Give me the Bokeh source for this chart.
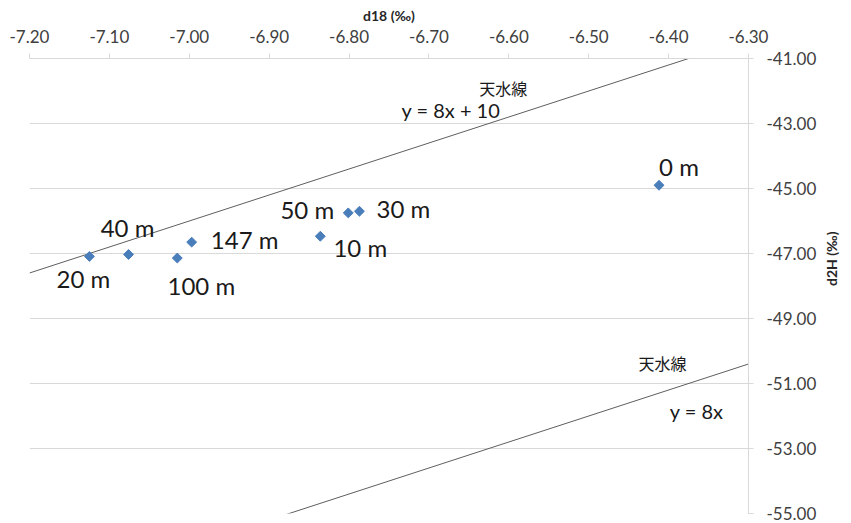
import math
from bokeh.plotting import figure
from bokeh.models import ColumnDataSource, NumeralTickFormatter, FixedTicker, Label, Range1d
from bokeh.core.properties import value
from bokeh.embed import file_html
from bokeh.resources import INLINE

# ---- data ----
depth_labels = ["0 m", "10 m", "20 m", "30 m", "40 m", "50 m", "100 m", "147 m"]
d18 = [-6.412, -6.836, -7.125, -6.787, -7.076, -6.801, -7.015, -6.997]
d2H = [-44.90, -46.47, -47.09, -45.70, -47.03, -45.75, -47.14, -46.65]

x_ticks = [-7.20, -7.10, -7.00, -6.90, -6.80, -6.70, -6.60, -6.50, -6.40, -6.30]
y_ticks = [-55.0, -53.0, -51.0, -49.0, -47.0, -45.0, -43.0, -41.0]

# meteoric water lines: y = slope*x + intercept
mwl_slope = 8.0
mwl_upper_intercept = 10.0
mwl_lower_intercept = 0.0
mwl_x = [-7.20, -6.30]

# label placement (screen px, +down)
label_dx = [20, 40, -6, 44, -1, -41, 24, 53]
label_dy = [-19, 11, 22, -3, -27, -3, 27, -3]

FONT = "Lato"

p = figure(width=851, height=523, output_backend="svg", toolbar_location=None,
           x_axis_location="above", y_axis_location="right",
           x_range=Range1d(-7.20, -6.30), y_range=Range1d(-55.0, -41.0),
           min_border_left=29, min_border_right=102, min_border_top=58, min_border_bottom=10)
p.outline_line_color = None
p.background_fill_color = "white"
p.border_fill_color = "white"

# axes
p.xaxis.ticker = FixedTicker(ticks=x_ticks)
p.yaxis.ticker = FixedTicker(ticks=y_ticks)
p.xaxis.formatter = NumeralTickFormatter(format="0.00")
p.yaxis.formatter = NumeralTickFormatter(format="0.00")
for ax in (p.xaxis, p.yaxis):
    ax.axis_line_color = "#D9D9D9"
    ax.major_tick_line_color = "#D9D9D9"
    ax.minor_tick_line_color = None
    ax.major_tick_in = 0
    ax.major_tick_out = 5
    ax.major_label_text_font = FONT
    ax.major_label_text_font_size = "17px"
    ax.major_label_text_color = "#404040"
    ax.axis_label_text_font = FONT
    ax.axis_label_text_font_size = "14px"
    ax.axis_label_text_font_style = "bold"
    ax.axis_label_text_color = "#262626"
p.xaxis.major_label_standoff = 11
p.yaxis.major_label_standoff = 13
p.xaxis.axis_label = "d18 (‰)"
p.xaxis.axis_label_standoff = 3
p.yaxis.axis_label = "d2H (‰)"
p.yaxis.axis_label_standoff = 12
p.yaxis.axis_label_orientation = math.pi / 2
p.xgrid.grid_line_color = None
p.ygrid.grid_line_color = "#D9D9D9"
p.ygrid.ticker = FixedTicker(ticks=y_ticks)

# meteoric water lines
p.line(mwl_x, [mwl_slope * x + mwl_upper_intercept for x in mwl_x], line_color="#5e5e5e", line_width=1)
p.line(mwl_x, [mwl_slope * x + mwl_lower_intercept for x in mwl_x], line_color="#5e5e5e", line_width=1)

src = ColumnDataSource(dict(x=d18, y=d2H, t=depth_labels, dx=label_dx, dy=label_dy))
p.scatter("x", "y", source=src, marker="square", angle=math.pi / 4, size=7,
          fill_color="#4A7EBB", line_color="#4A7EBB")
p.text("x", "y", text="t", source=src, x_offset="dx", y_offset="dy",
       text_font=value(FONT), text_font_size="24px", text_color="#1a1a1a",
       text_align="center", text_baseline="middle")

# line annotations
ann = [("天水線", -6.607, -41.92, "16px"), ("y = 8x + 10", -6.6725, -42.58, "20px"),
       ("天水線", -6.4075, -50.37, "16px"), ("y = 8x", -6.365, -51.84, "20px")]
for t, x, y, fs in ann:
    fnt = "Noto Sans CJK JP" if t == "天水線" else FONT
    p.add_layout(Label(x=x, y=y, text=t, text_font=fnt, text_font_size=fs, text_color="#1a1a1a",
                       text_align="center", text_baseline="middle"))

open("out.html", "w").write(file_html(p, INLINE))
